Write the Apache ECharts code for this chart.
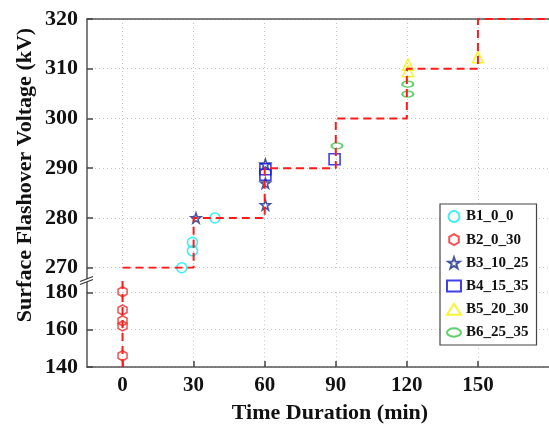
<!DOCTYPE html>
<html><head><meta charset="utf-8">
<script src="https://cdn.jsdelivr.net/npm/echarts@6/dist/echarts.min.js"></script>
<style>html,body{margin:0;padding:0;background:#fff}#c{width:549px;height:430px}</style>
</head><body><div id="c"></div>
<script>
// ---- data ----
const timeTicks = [0, 30, 60, 90, 120, 150];
const upperVoltTicks = [270, 280, 290, 300, 310, 320];
const lowerVoltTicks = [140, 160, 180];
const stepUpper = [[0,270],[30,270],[30,280],[60,280],[60,290],[90,290],[90,300],[120,300],[120,310],[150,310],[150,320],[185,320]];
const stepLower = [[0,140],[0,186.5]];
const B1 = [[25,270],[29.5,273.4],[29.5,275.1],[39,280]];
const B2 = [[0,180.3],[0,170.5],[0,164.8],[0,162],[0,146]];
const B3 = [[31,280],[60.3,290.8],[60.3,287],[60.3,282.6]];
const B4 = [[60.3,289.8],[60.3,288.7],[89.5,291.8]];
const B5 = [[120.5,310.8],[120.5,309.5],[150,312.3]];
const B6 = [[90.5,294.5],[120.4,306.9],[120.4,304.9]];
const seriesNames = ['B1_0_0','B2_0_30','B3_10_25','B4_15_35','B5_20_30','B6_25_35'];

const FONT = "'Liberation Serif','Times New Roman',serif";
const hexagon = 'path://M0,-10 L8.66,-5 L8.66,5 L0,10 L-8.66,5 L-8.66,-5 Z';
const star = 'path://M0,-10 L2.35,-3.24 L9.51,-3.09 L3.8,1.24 L5.88,8.09 L0,4 L-5.88,8.09 L-3.8,1.24 L-9.51,-3.09 L-2.35,-3.24 Z';
const ellipse = 'path://M-10,0 A10,6 0 1,0 10,0 A10,6 0 1,0 -10,0 Z';

const chart = echarts.init(document.getElementById('c'), null, {renderer:'canvas'});
const gridLine = {show:true, lineStyle:{color:'#c4c4c4', type:[1,3], width:1}};
const axisLineStyle = {color:'#555', width:1.5};
const xCommon = {type:'value', min:-15, max:180,
  axisTick:{show:true, inside:true, length:6, customValues:timeTicks, lineStyle:{color:'#444', width:1.5}},
  axisLabel:{customValues:timeTicks, fontFamily:FONT, fontWeight:'bold', fontSize:21, color:'#111', margin:8},
  splitLine:gridLine};

function scatter(name, data, symbol, size, color, grid){
  return {name, type:'scatter', data, symbol, symbolSize:size,
    xAxisIndex:grid, yAxisIndex:grid, clip:false,
    itemStyle:{color:'rgba(255,255,255,0)', borderColor:color, borderWidth:1.6},
    emphasis:{disabled:true}, z:3};
}
const dash = {color:'#ff1a1a', width:2, type:[8,5]};
const yLabel = {fontFamily:FONT, fontWeight:'bold', fontSize:22, color:'#111', margin:9};
const yTick = {show:true, inside:true, length:6, lineStyle:{color:'#444', width:1.5}};

chart.setOption({
  animation:false,
  backgroundColor:'#fff',
  grid:[
    {left:87, top:19, width:466.7, height:248.7},
    {left:87, top:292.3, width:466.7, height:74.7}
  ],
  xAxis:[
    Object.assign({}, xCommon, {gridIndex:0, position:'top', axisLine:{show:true, onZero:false, lineStyle:axisLineStyle},
      axisTick:{show:false, customValues:timeTicks}, axisLabel:{show:false, customValues:timeTicks}, splitLine:gridLine}),
    Object.assign({}, xCommon, {gridIndex:1, position:'bottom', axisLine:{show:true, onZero:false, lineStyle:axisLineStyle}})
  ],
  yAxis:[
    {type:'value', gridIndex:0, min:270, max:320, interval:10, position:'left',
      axisLine:{show:true, onZero:false, lineStyle:axisLineStyle},
      axisTick:yTick, axisLabel:yLabel, splitLine:gridLine},
    {type:'value', gridIndex:1, min:140, max:180, interval:20, position:'left',
      axisLine:{show:true, onZero:false, lineStyle:axisLineStyle},
      axisTick:yTick, axisLabel:yLabel, splitLine:gridLine}
  ],
  legend:{
    data:seriesNames, orient:'vertical', left:440, top:204,
    padding:[5,8,5,6], itemGap:8.2, itemWidth:14, itemHeight:11,
    backgroundColor:'#fff', borderColor:'#444', borderWidth:1.2,
    textStyle:{fontFamily:FONT, fontWeight:'bold', fontSize:15, color:'#111'}
  },
  series:[
    scatter(seriesNames[0], B1, 'circle', 10, '#10e8f0', 0),
    scatter(seriesNames[1], B2, hexagon, [9,10], '#f02828', 1),
    scatter(seriesNames[2], B3, star, 10, '#1c2a86', 0),
    scatter(seriesNames[3], B4, 'rect', 11, '#1010e0', 0),
    scatter(seriesNames[4], B5, 'triangle', 11, '#f2f200', 0),
    scatter(seriesNames[5], B6, ellipse, [11,6], '#3cc24a', 0),
    {type:'line', data:stepUpper, xAxisIndex:0, yAxisIndex:0, symbol:'none', lineStyle:dash, z:4, silent:true},
    {type:'line', data:stepLower, xAxisIndex:1, yAxisIndex:1, symbol:'none', lineStyle:dash, z:4, silent:true, clip:false}
  ]
});

// axis break decoration in the gap between the two grids
const pTop = chart.convertToPixel({gridIndex:0}, [-15, 270]);
const pBot = chart.convertToPixel({gridIndex:1}, [-15, 180]);
const ax = pTop[0], midY = (pTop[1] + pBot[1]) / 2;
chart.setOption({
  graphic:[
    {type:'line', shape:{x1:ax, y1:pTop[1], x2:ax, y2:pBot[1]}, style:{stroke:'#555', lineWidth:1.5}, z:10},
    {type:'polygon', shape:{points:[[ax-7,midY+1.5],[ax+7,midY-3.5],[ax+7,midY-0.5],[ax-7,midY+4.5]]}, style:{fill:'#fff'}, z:11},
    {type:'line', shape:{x1:ax-7, y1:midY+1.5, x2:ax+6, y2:midY-3.5}, style:{stroke:'#333', lineWidth:1.2}, z:12},
    {type:'line', shape:{x1:ax-7, y1:midY+4.5, x2:ax+6, y2:midY-0.5}, style:{stroke:'#333', lineWidth:1.2}, z:12},
    {type:'text', x:25, y:175, rotation:Math.PI/2, style:{text:'Surface Flashover Voltage (kV)', font:'bold 22px ' + FONT, fill:'#111', align:'center', verticalAlign:'middle'}, z:10},
    {type:'text', x:330, y:413, style:{text:'Time Duration (min)', font:'bold 22px ' + FONT, fill:'#111', align:'center', verticalAlign:'middle'}, z:10}
  ]
});
</script>
</body></html>
